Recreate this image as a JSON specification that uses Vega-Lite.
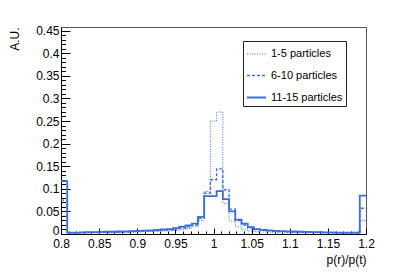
{
  "$schema": "https://vega.github.io/schema/vega-lite/v6.json",
  "width": 305,
  "height": 207,
  "autosize": {"type": "none"},
  "padding": {"left": 61, "top": 27, "right": 41, "bottom": 42},
  "background": "white",
  "config": {
    "view": {"stroke": "#555", "strokeWidth": 1},
    "font": "Liberation Sans",
    "axis": {"domainColor": "black", "tickColor": "black", "labelColor": "black", "titleColor": "black", "grid": false, "labelFont": "Liberation Sans", "titleFont": "Liberation Sans", "labelFontSize": 12, "titleFontSize": 12, "titleFontWeight": "normal", "tickWidth": 1, "domainWidth": 1},
    "legend": {"orient": "none", "legendX": 182, "legendY": 14, "strokeColor": "#222", "fillColor": "white", "padding": 3, "rowPadding": 6, "symbolType": "stroke", "symbolSize": 361, "labelFontSize": 11, "labelFont": "Liberation Sans", "labelColor": "black", "labelOffset": 4}
  },
  "data": {"values": [
    {"x": 0.8, "1-5 particles": 0.040, "6-10 particles": 0.075, "11-15 particles": 0.117},
    {"x": 0.80816, "1-5 particles": 0.002, "6-10 particles": 0.0025, "11-15 particles": 0.003},
    {"x": 0.81633, "1-5 particles": 0.002, "6-10 particles": 0.0025, "11-15 particles": 0.003},
    {"x": 0.82449, "1-5 particles": 0.002, "6-10 particles": 0.003, "11-15 particles": 0.0035},
    {"x": 0.83265, "1-5 particles": 0.0025, "6-10 particles": 0.003, "11-15 particles": 0.004},
    {"x": 0.84082, "1-5 particles": 0.0025, "6-10 particles": 0.0035, "11-15 particles": 0.004},
    {"x": 0.84898, "1-5 particles": 0.003, "6-10 particles": 0.0035, "11-15 particles": 0.0045},
    {"x": 0.85714, "1-5 particles": 0.003, "6-10 particles": 0.004, "11-15 particles": 0.005},
    {"x": 0.86531, "1-5 particles": 0.003, "6-10 particles": 0.004, "11-15 particles": 0.005},
    {"x": 0.87347, "1-5 particles": 0.0035, "6-10 particles": 0.0045, "11-15 particles": 0.0055},
    {"x": 0.88163, "1-5 particles": 0.0035, "6-10 particles": 0.005, "11-15 particles": 0.006},
    {"x": 0.88980, "1-5 particles": 0.004, "6-10 particles": 0.0055, "11-15 particles": 0.0065},
    {"x": 0.89796, "1-5 particles": 0.0045, "6-10 particles": 0.006, "11-15 particles": 0.007},
    {"x": 0.90612, "1-5 particles": 0.005, "6-10 particles": 0.0065, "11-15 particles": 0.0075},
    {"x": 0.91429, "1-5 particles": 0.0055, "6-10 particles": 0.007, "11-15 particles": 0.008},
    {"x": 0.92245, "1-5 particles": 0.006, "6-10 particles": 0.0075, "11-15 particles": 0.009},
    {"x": 0.93061, "1-5 particles": 0.0065, "6-10 particles": 0.0085, "11-15 particles": 0.010},
    {"x": 0.93878, "1-5 particles": 0.007, "6-10 particles": 0.0095, "11-15 particles": 0.011},
    {"x": 0.94694, "1-5 particles": 0.008, "6-10 particles": 0.011, "11-15 particles": 0.013},
    {"x": 0.95510, "1-5 particles": 0.010, "6-10 particles": 0.013, "11-15 particles": 0.016},
    {"x": 0.96327, "1-5 particles": 0.012, "6-10 particles": 0.016, "11-15 particles": 0.019},
    {"x": 0.97143, "1-5 particles": 0.016, "6-10 particles": 0.020, "11-15 particles": 0.023},
    {"x": 0.97959, "1-5 particles": 0.030, "6-10 particles": 0.035, "11-15 particles": 0.038},
    {"x": 0.98776, "1-5 particles": 0.094, "6-10 particles": 0.090, "11-15 particles": 0.084},
    {"x": 0.99592, "1-5 particles": 0.250, "6-10 particles": 0.120, "11-15 particles": 0.084},
    {"x": 1.00408, "1-5 particles": 0.270, "6-10 particles": 0.144, "11-15 particles": 0.095},
    {"x": 1.01224, "1-5 particles": 0.068, "6-10 particles": 0.098, "11-15 particles": 0.077},
    {"x": 1.02041, "1-5 particles": 0.029, "6-10 particles": 0.055, "11-15 particles": 0.050},
    {"x": 1.02857, "1-5 particles": 0.016, "6-10 particles": 0.030, "11-15 particles": 0.032},
    {"x": 1.03673, "1-5 particles": 0.009, "6-10 particles": 0.020, "11-15 particles": 0.023},
    {"x": 1.04490, "1-5 particles": 0.0065, "6-10 particles": 0.013, "11-15 particles": 0.015},
    {"x": 1.05306, "1-5 particles": 0.005, "6-10 particles": 0.010, "11-15 particles": 0.011},
    {"x": 1.06122, "1-5 particles": 0.0045, "6-10 particles": 0.008, "11-15 particles": 0.009},
    {"x": 1.06939, "1-5 particles": 0.004, "6-10 particles": 0.007, "11-15 particles": 0.008},
    {"x": 1.07755, "1-5 particles": 0.0035, "6-10 particles": 0.006, "11-15 particles": 0.007},
    {"x": 1.08571, "1-5 particles": 0.003, "6-10 particles": 0.0055, "11-15 particles": 0.0065},
    {"x": 1.09388, "1-5 particles": 0.003, "6-10 particles": 0.005, "11-15 particles": 0.006},
    {"x": 1.10204, "1-5 particles": 0.003, "6-10 particles": 0.0045, "11-15 particles": 0.0055},
    {"x": 1.11020, "1-5 particles": 0.003, "6-10 particles": 0.004, "11-15 particles": 0.005},
    {"x": 1.11837, "1-5 particles": 0.003, "6-10 particles": 0.004, "11-15 particles": 0.0045},
    {"x": 1.12653, "1-5 particles": 0.0025, "6-10 particles": 0.0035, "11-15 particles": 0.004},
    {"x": 1.13469, "1-5 particles": 0.0025, "6-10 particles": 0.0035, "11-15 particles": 0.004},
    {"x": 1.14286, "1-5 particles": 0.0025, "6-10 particles": 0.003, "11-15 particles": 0.0035},
    {"x": 1.15102, "1-5 particles": 0.0025, "6-10 particles": 0.003, "11-15 particles": 0.0035},
    {"x": 1.15918, "1-5 particles": 0.0025, "6-10 particles": 0.0025, "11-15 particles": 0.003},
    {"x": 1.16735, "1-5 particles": 0.0025, "6-10 particles": 0.0025, "11-15 particles": 0.003},
    {"x": 1.17551, "1-5 particles": 0.0025, "6-10 particles": 0.0025, "11-15 particles": 0.003},
    {"x": 1.18367, "1-5 particles": 0.0025, "6-10 particles": 0.0025, "11-15 particles": 0.003},
    {"x": 1.19184, "1-5 particles": 0.030, "6-10 particles": 0.057, "11-15 particles": 0.085},
    {"x": 1.2, "1-5 particles": 0.030, "6-10 particles": 0.057, "11-15 particles": 0.085}
  ]},
  "transform": [{"fold": ["1-5 particles", "6-10 particles", "11-15 particles"], "as": ["series", "value"]}],
  "mark": {"type": "line", "interpolate": "step-after", "color": "#3b6fd8", "clip": true},
  "encoding": {
    "x": {
      "field": "x", "type": "quantitative",
      "scale": {"domain": [0.8, 1.2], "nice": false, "zero": false},
      "axis": {
        "values": [0.8,0.81,0.82,0.83,0.84,0.85,0.86,0.87,0.88,0.89,0.9,0.91,0.92,0.93,0.94,0.95,0.96,0.97,0.98,0.99,1,1.01,1.02,1.03,1.04,1.05,1.06,1.07,1.08,1.09,1.1,1.11,1.12,1.13,1.14,1.15,1.16,1.17,1.18,1.19,1.2],
        "labelExpr": "abs(datum.value*20 - round(datum.value*20)) < 0.001 ? format(datum.value, '~g') : ''",
        "tickSize": {"condition": {"test": "abs(datum.value*20 - round(datum.value*20)) < 0.001", "value": -6}, "value": -3},
        "labelPadding": 10,
        "labelFlush": false,
        "labelOverlap": false,
        "title": "p(r)/p(t)",
        "titleAnchor": "end",
        "titleAlign": "right",
        "titleX": 305,
        "titleY": 29.5,
        "titleBaseline": "alphabetic"
      }
    },
    "y": {
      "field": "value", "type": "quantitative",
      "scale": {"domain": [0, 0.458], "nice": false},
      "axis": {
        "values": [0,0.01,0.02,0.03,0.04,0.05,0.06,0.07,0.08,0.09,0.1,0.11,0.12,0.13,0.14,0.15,0.16,0.17,0.18,0.19,0.2,0.21,0.22,0.23,0.24,0.25,0.26,0.27,0.28,0.29,0.3,0.31,0.32,0.33,0.34,0.35,0.36,0.37,0.38,0.39,0.4,0.41,0.42,0.43,0.44,0.45],
        "labelExpr": "abs(datum.value*20 - round(datum.value*20)) < 0.001 ? format(datum.value, '~g') : ''",
        "tickSize": {"condition": {"test": "abs(datum.value*20 - round(datum.value*20)) < 0.001", "value": -9}, "value": -4.5},
        "labelPadding": 11,
        "labelOverlap": false,
        "labelFlush": false,
        "labelBaseline": {"condition": {"test": "datum.value == 0", "value": "alphabetic"}, "value": "middle"},
        "title": "A.U.",
        "titleAnchor": "end",
        "titleAlign": "right",
        "titleX": -47,
        "titleY": 0,
        "titleBaseline": "middle"
      }
    },
    "strokeDash": {
      "field": "series", "type": "nominal",
      "scale": {"domain": ["1-5 particles", "6-10 particles", "11-15 particles"], "range": [[1, 1.5], [3, 2], [1, 0]]},
      "legend": {"title": null}
    },
    "strokeWidth": {
      "field": "series", "type": "ordinal",
      "scale": {"domain": ["1-5 particles", "6-10 particles", "11-15 particles"], "range": [1, 1.8, 2]},
      "legend": {"title": null}
    }
  }
}
